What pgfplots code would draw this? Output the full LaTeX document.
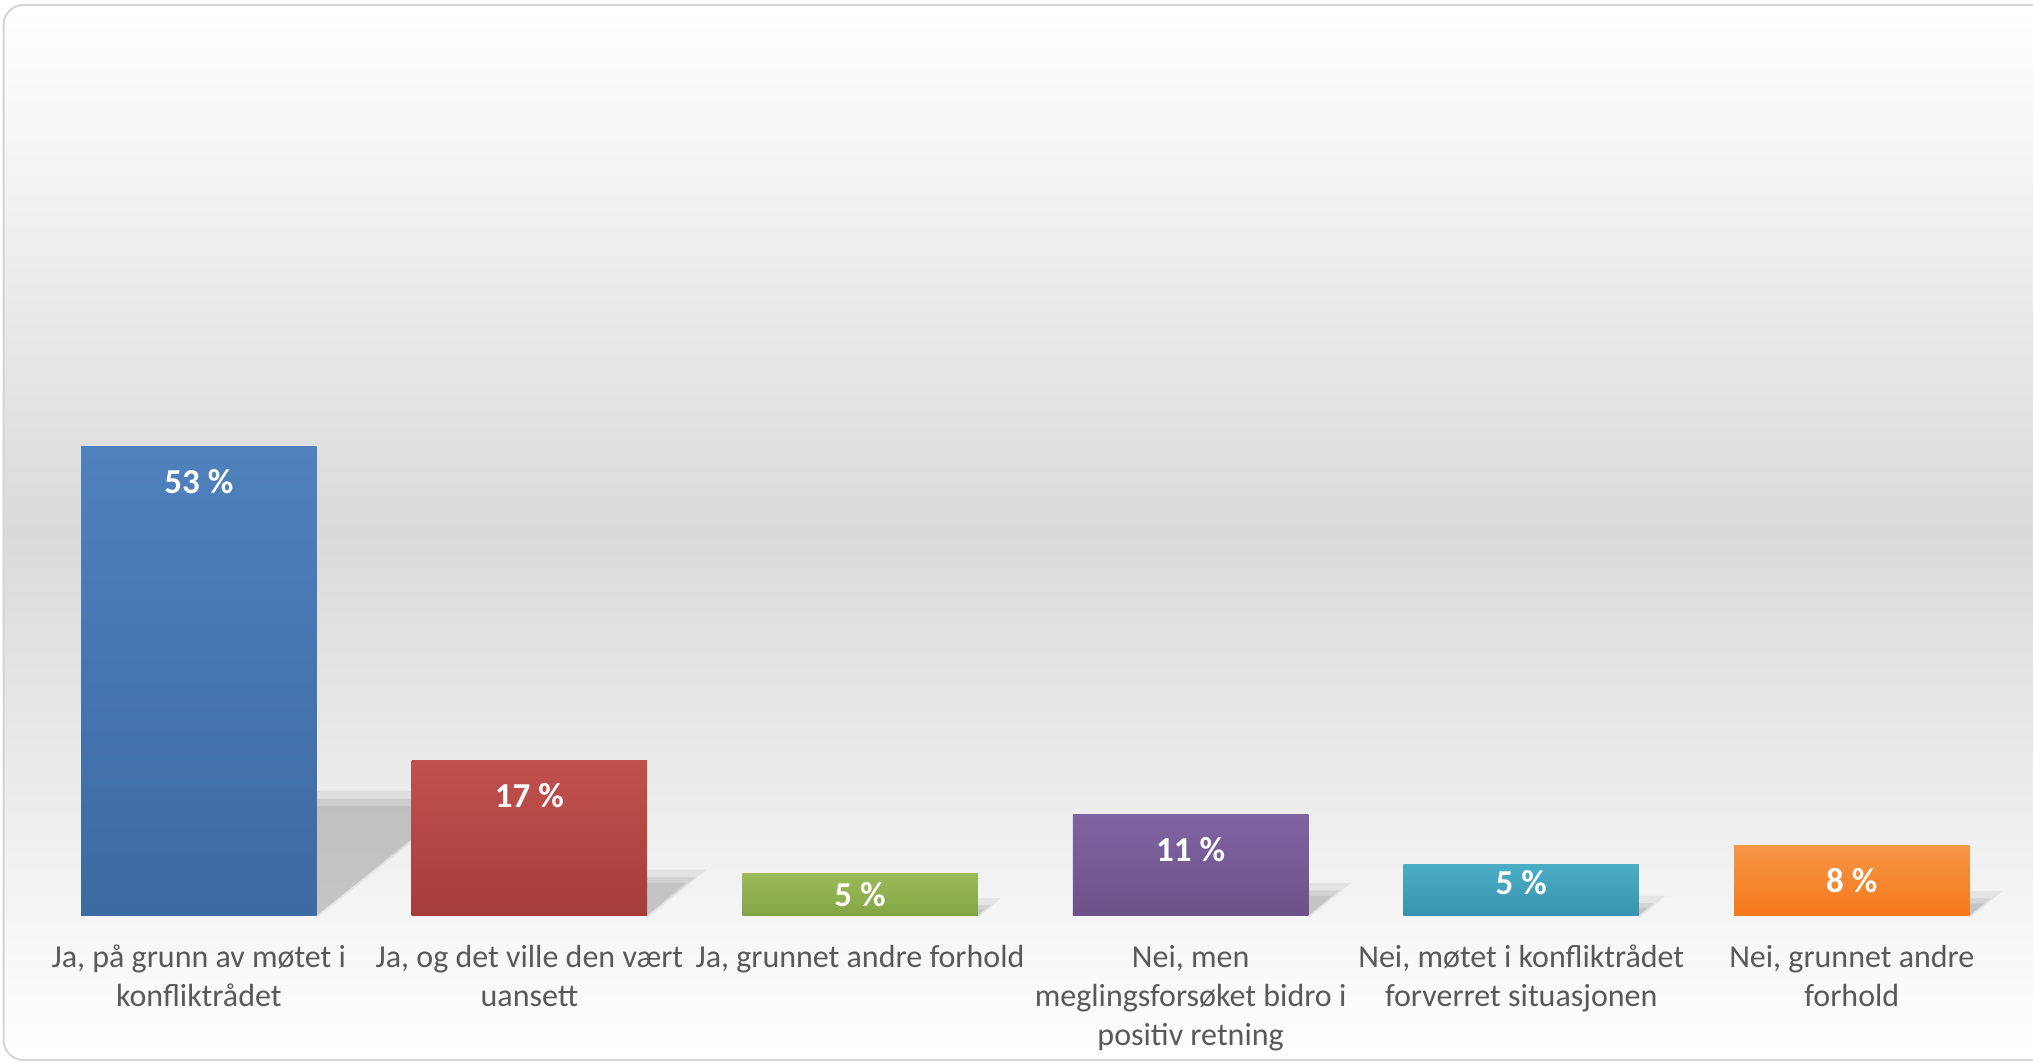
\documentclass[border=0pt]{standalone}
\usepackage{fontspec}
\setmainfont{Carlito}
\usepackage{pgfplots}
\pgfplotsset{compat=1.18}
\definecolor{lbl}{HTML}{595959}
\definecolor{bgmid}{HTML}{DADADA}
\definecolor{bordergray}{HTML}{D4D4D4}
\definecolor{blueT}{HTML}{4F81BD}\definecolor{blueB}{HTML}{3C6AA2}
\definecolor{redT}{HTML}{C0504D}\definecolor{redB}{HTML}{A53D3B}
\definecolor{greenT}{HTML}{9BBB59}\definecolor{greenB}{HTML}{84A545}
\definecolor{purpleT}{HTML}{8064A2}\definecolor{purpleB}{HTML}{6C5188}
\definecolor{tealT}{HTML}{4BACC6}\definecolor{tealB}{HTML}{3894AE}
\definecolor{orangeT}{HTML}{F79646}\definecolor{orangeB}{HTML}{F5781A}
\pgfplotsset{
  mybar/.style={ybar, bar width=117.75pt, bar shift=0pt, draw=none,
    every node near coord/.append style={font=\fontsize{17.5}{21}\selectfont\bfseries, text=white, anchor=base, yshift=-23.5pt}},
  shO/.style={draw=none, fill=black, fill opacity=0.06, forget plot},
  shM/.style={draw=none, fill=black, fill opacity=0.07, forget plot},
  shI/.style={draw=none, fill=black, fill opacity=0.07, forget plot},
}
\begin{document}
\begin{tikzpicture}
\useasboundingbox (0,0) rectangle (1016.5pt,531.5pt);
\shade[top color=white, bottom color=white, middle color=bgmid, rounded corners=10pt] (1.75pt,1.5pt) rectangle (1040pt,529pt);
\draw[line width=1pt, draw=bordergray, rounded corners=10pt] (1.75pt,1.5pt) rectangle (1040pt,529pt);
\begin{axis}[
  at={(16.75pt,73.65pt)}, anchor=south west,
  scale only axis, width=991.8pt, height=442.5pt,
  xmin=-0.5, xmax=5.5, ymin=0, ymax=100,
  axis line style={draw=none},
  ytick=\empty,
  xtick={0,1,2,3,4,5},
  xtick style={draw=none},
  xticklabels={
    {\strut Ja, på grunn av møtet i\\konfliktrådet},
    {\strut Ja, og det ville den vært\\uansett},
    {\strut Ja, grunnet andre forhold},
    {\strut Nei, men\\meglingsforsøket bidro i\\positiv retning},
    {\strut Nei, møtet i konfliktrådet\\forverret situasjonen},
    {\strut Nei, grunnet andre\\forhold}},
  xticklabel style={font=\fontsize{16}{19.5}\selectfont, text=lbl, align=center, anchor=north, inner sep=0pt, yshift=-12.05pt},
  clip=false,
]
% shadows (three soft layers each)
\addplot[shO] coordinates {(0.356,-0.3) (0.356,14.1) (0.836,14.1)};
\addplot[shM] coordinates {(0.356,0) (0.356,13.24) (0.799,13.24)};
\addplot[shI] coordinates {(0.356,0) (0.356,12.4) (0.766,12.4)};
\addplot[shO] coordinates {(1.356,-0.3) (1.356,5.2) (1.536,5.2)};
\addplot[shM] coordinates {(1.356,0) (1.356,4.37) (1.502,4.37)};
\addplot[shI] coordinates {(1.356,0) (1.356,3.7) (1.471,3.7)};
\addplot[shO] coordinates {(2.356,-0.3) (2.356,2.0) (2.426,2.0)};
\addplot[shM] coordinates {(2.356,0) (2.356,1.2) (2.396,1.2)};
\addplot[shI] coordinates {(2.356,0) (2.356,0.7) (2.376,0.7)};
\addplot[shO] coordinates {(3.356,-0.3) (3.356,3.7) (3.486,3.7)};
\addplot[shM] coordinates {(3.356,0) (3.356,2.85) (3.451,2.85)};
\addplot[shI] coordinates {(3.356,0) (3.356,2.2) (3.426,2.2)};
\addplot[shO] coordinates {(4.356,-0.3) (4.356,2.25) (4.436,2.25)};
\addplot[shM] coordinates {(4.356,0) (4.356,1.43) (4.404,1.43)};
\addplot[shI] coordinates {(4.356,0) (4.356,0.9) (4.381,0.9)};
\addplot[shO] coordinates {(5.356,-0.3) (5.356,2.8) (5.456,2.8)};
\addplot[shM] coordinates {(5.356,0) (5.356,1.97) (5.422,1.97)};
\addplot[shI] coordinates {(5.356,0) (5.356,1.4) (5.401,1.4)};
% bars
\addplot[mybar, top color=blueT, bottom color=blueB, nodes near coords={53 \%}] coordinates {(0,52.96)};
\addplot[mybar, top color=redT, bottom color=redB, nodes near coords={17 \%}] coordinates {(1,17.48)};
\addplot[mybar, top color=greenT, bottom color=greenB, nodes near coords={5 \%},
  every node near coord/.append style={yshift=6.65pt}] coordinates {(2,4.82)};
\addplot[mybar, top color=purpleT, bottom color=purpleB, nodes near coords={11 \%}] coordinates {(3,11.38)};
\addplot[mybar, top color=tealT, bottom color=tealB, nodes near coords={5 \%},
  every node near coord/.append style={yshift=8.5pt}] coordinates {(4,5.73)};
\addplot[mybar, top color=orangeT, bottom color=orangeB, nodes near coords={8 \%}] coordinates {(5,7.88)};
\end{axis}
\end{tikzpicture}
\end{document}
